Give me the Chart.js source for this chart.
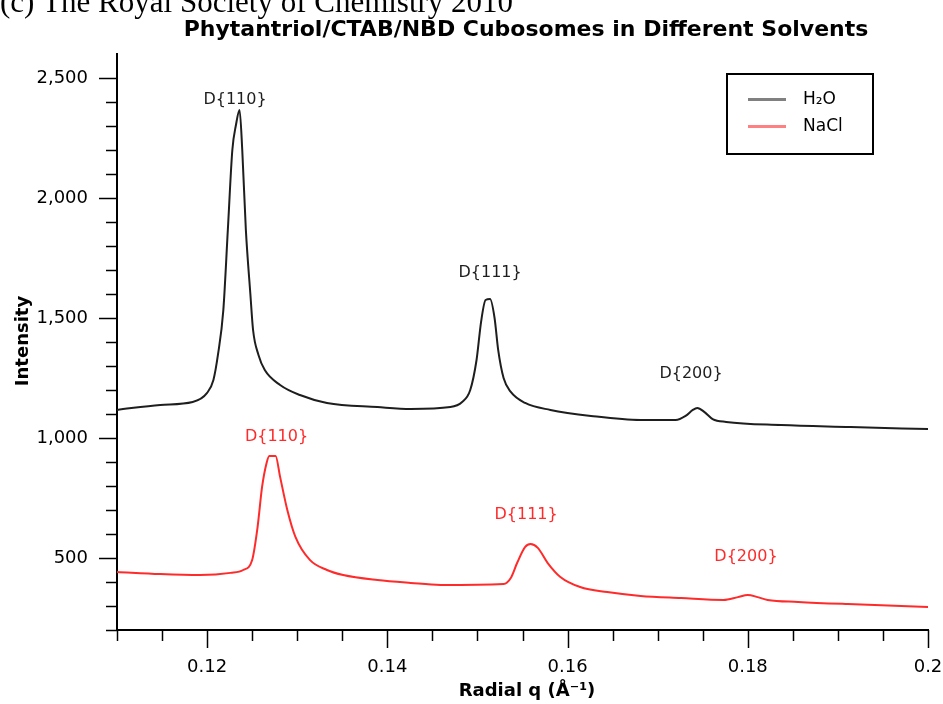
<!DOCTYPE html>
<html lang="en">
<head>
    <meta charset="UTF-8">
    <title>Phytantriol/CTAB/NBD Cubosomes in Different Solvents</title>
    <script src="https://cdn.jsdelivr.net/npm/chart.js"></script>
    <style>
        html, body { margin: 0; padding: 0; background: #fff; overflow: hidden; }
    </style>
</head>
<body>
<canvas id="saxsChart" width="943" height="704"></canvas>

<script>
    // H2O curve (q in 1/Angstrom, intensity)
    const qH2O = [0.1100, 0.1148, 0.1184, 0.1200, 0.1207, 0.1212, 0.1218, 0.1223, 0.1228, 0.1232,
                  0.1236, 0.1239, 0.1243, 0.1248, 0.1251, 0.1257, 0.1264, 0.1281, 0.1303, 0.1333,
                  0.1389, 0.1426, 0.1470, 0.1483, 0.1492, 0.1499, 0.1504, 0.1509, 0.1514, 0.1519,
                  0.1523, 0.1529, 0.1537, 0.1553, 0.1581, 0.1626, 0.1681, 0.1720, 0.1731, 0.1739,
                  0.1744, 0.1752, 0.1761, 0.1776, 0.1837, 0.1914, 0.2000];
    const intensityH2O = [1117, 1138, 1150, 1188, 1242, 1346, 1533, 1867, 2200, 2304,
                          2367, 2200, 1867, 1600, 1450, 1346, 1283, 1221, 1179, 1146,
                          1129, 1121, 1129, 1150, 1200, 1325, 1483, 1575, 1579, 1500,
                          1367, 1250, 1192, 1146, 1117, 1092, 1075, 1075, 1092, 1117,
                          1125, 1108, 1079, 1067, 1054, 1046, 1037];

    // NaCl curve
    const qNaCl = [0.1100, 0.1148, 0.1192, 0.1226, 0.1240, 0.1250, 0.1256, 0.1261, 0.1266, 0.1269,
                   0.1276, 0.1281, 0.1289, 0.1298, 0.1314, 0.1333, 0.1351, 0.1389, 0.1426, 0.1459,
                   0.1529, 0.1537, 0.1544, 0.1553, 0.1559, 0.1567, 0.1578, 0.1592, 0.1614, 0.1644,
                   0.1681, 0.1726, 0.1773, 0.1789, 0.1800, 0.1811, 0.1822, 0.1856, 0.1911, 0.2000];
    const intensityNaCl = [442, 433, 429, 438, 450, 492, 629, 796, 896, 925,
                           925, 838, 700, 588, 492, 450, 429, 408, 396, 388,
                           392, 417, 479, 546, 558, 542, 479, 421, 379, 358,
                           342, 333, 325, 337, 346, 337, 325, 317, 308, 296];

    // peak labels: text, q, intensity
    const peakNames = ['D{110}', 'D{111}', 'D{200}'];
    const peakQH2O = [0.1231, 0.1514, 0.1737];
    const peakYH2O = [2408, 1687, 1267];
    const peakQNaCl = [0.1277, 0.1554, 0.1798];
    const peakYNaCl = [1005, 678, 505];

    const xMajorTicks = [0.12, 0.14, 0.16, 0.18, 0.2];
    const yMajorTicks = [500, 1000, 1500, 2000, 2500];

    const BLACK = '#1e1e1e';
    const RED = '#ff2a2a';

    function toPoints(xs, ys) {
        return xs.map((x, i) => ({ x: x, y: ys[i] }));
    }

    // axes ticks, titles, legend and peak labels
    const decorPlugin = {
        id: 'decor',
        afterDraw(chart) {
            const ctx = chart.ctx;
            const xs = chart.scales.x;
            const ys = chart.scales.y;
            const area = chart.chartArea;
            ctx.save();

            // caption cut at the top of the figure
            ctx.fillStyle = '#000';
            ctx.font = '31px "Liberation Serif"';
            ctx.textAlign = 'left';
            ctx.textBaseline = 'alphabetic';
            ctx.fillText('(c) The Royal Society of Chemistry 2010', 0, 12);

            // chart title
            ctx.font = 'bold 22px "DejaVu Sans"';
            ctx.textAlign = 'center';
            ctx.textBaseline = 'middle';
            ctx.fillText('Phytantriol/CTAB/NBD Cubosomes in Different Solvents', 526, 30);

            // tick marks
            ctx.strokeStyle = '#000';
            ctx.lineWidth = 1.5;
            for (let v = 200; v <= 2500; v += 100) {
                const py = Math.round(ys.getPixelForValue(v)) + 0.5;
                const len = v % 500 === 0 ? 18 : 11;
                ctx.beginPath();
                ctx.moveTo(area.left - len, py);
                ctx.lineTo(area.left, py);
                ctx.stroke();
            }
            for (let i = 0; i <= 18; i++) {
                const px = Math.round(xs.getPixelForValue(0.11 + i * 0.005)) + 0.5;
                const len = i % 4 === 2 ? 18 : 11;
                ctx.beginPath();
                ctx.moveTo(px, area.bottom);
                ctx.lineTo(px, area.bottom + len);
                ctx.stroke();
            }

            // axis titles
            ctx.fillStyle = '#000';
            ctx.font = 'bold 18px "DejaVu Sans"';
            ctx.textAlign = 'center';
            ctx.textBaseline = 'middle';
            ctx.fillText('Radial q (Å⁻¹)', 527, 691);
            ctx.save();
            ctx.translate(23, 341);
            ctx.rotate(-Math.PI / 2);
            ctx.fillText('Intensity', 0, 0);
            ctx.restore();

            // peak labels
            ctx.font = '16px "DejaVu Sans"';
            ctx.textBaseline = 'middle';
            peakNames.forEach((name, i) => {
                ctx.fillStyle = BLACK;
                ctx.fillText(name, xs.getPixelForValue(peakQH2O[i]), ys.getPixelForValue(peakYH2O[i]));
                ctx.fillStyle = RED;
                ctx.fillText(name, xs.getPixelForValue(peakQNaCl[i]), ys.getPixelForValue(peakYNaCl[i]));
            });

            // legend
            ctx.fillStyle = '#fff';
            ctx.fillRect(727, 74, 146, 80);
            ctx.strokeStyle = '#000';
            ctx.lineWidth = 2;
            ctx.strokeRect(727, 74, 146, 80);
            const legendColors = ['#808080', '#ff8080'];
            ctx.font = '17px "DejaVu Sans"';
            ctx.textAlign = 'left';
            chart.data.datasets.forEach((ds, i) => {
                const ly = 99.5 + i * 27;
                ctx.strokeStyle = legendColors[i];
                ctx.lineWidth = 3;
                ctx.beginPath();
                ctx.moveTo(748, ly);
                ctx.lineTo(786, ly);
                ctx.stroke();
                ctx.fillStyle = '#000';
                ctx.fillText(ds.label, 803, ly);
            });

            ctx.restore();
        }
    };

    const ctx = document.getElementById('saxsChart').getContext('2d');
    const saxsChart = new Chart(ctx, {
        type: 'line',
        data: {
            datasets: [
                {
                    label: 'H₂O',
                    data: toPoints(qH2O, intensityH2O),
                    borderColor: BLACK,
                    borderWidth: 2,
                    pointRadius: 0,
                    cubicInterpolationMode: 'monotone'
                },
                {
                    label: 'NaCl',
                    data: toPoints(qNaCl, intensityNaCl),
                    borderColor: RED,
                    borderWidth: 2,
                    pointRadius: 0,
                    cubicInterpolationMode: 'monotone'
                }
            ]
        },
        options: {
            responsive: false,
            animation: false,
            devicePixelRatio: 1,
            layout: { padding: { top: 54, right: 15, left: 0, bottom: 0 } },
            plugins: {
                legend: { display: false },
                tooltip: { enabled: false }
            },
            scales: {
                x: {
                    type: 'linear',
                    min: 0.11,
                    max: 0.2,
                    afterBuildTicks: (scale) => { scale.ticks = xMajorTicks.map(v => ({ value: v })); },
                    afterFit: (scale) => {
                        scale.height = 74;
                        scale.paddingLeft = 0;
                        scale.paddingRight = 0;
                    },
                    grid: { display: false, drawTicks: false },
                    border: { display: true, color: '#000', width: 2 },
                    ticks: {
                        color: '#000',
                        font: { family: 'DejaVu Sans', size: 18 },
                        padding: 27,
                        maxRotation: 0,
                        autoSkip: false,
                        callback: (v) => String(Number(v.toFixed(3)))
                    }
                },
                y: {
                    min: 200,
                    max: 2600,
                    afterBuildTicks: (scale) => { scale.ticks = yMajorTicks.map(v => ({ value: v })); },
                    afterFit: (scale) => {
                        scale.width = 117;
                        scale.paddingTop = 0;
                        scale.paddingBottom = 0;
                    },
                    grid: { display: false, drawTicks: false },
                    border: { display: true, color: '#000', width: 2 },
                    ticks: {
                        color: '#000',
                        font: { family: 'DejaVu Sans', size: 18 },
                        padding: 29,
                        autoSkip: false,
                        callback: (v) => v.toLocaleString('en-US')
                    }
                }
            }
        },
        plugins: [decorPlugin]
    });
</script>
</body>
</html>
